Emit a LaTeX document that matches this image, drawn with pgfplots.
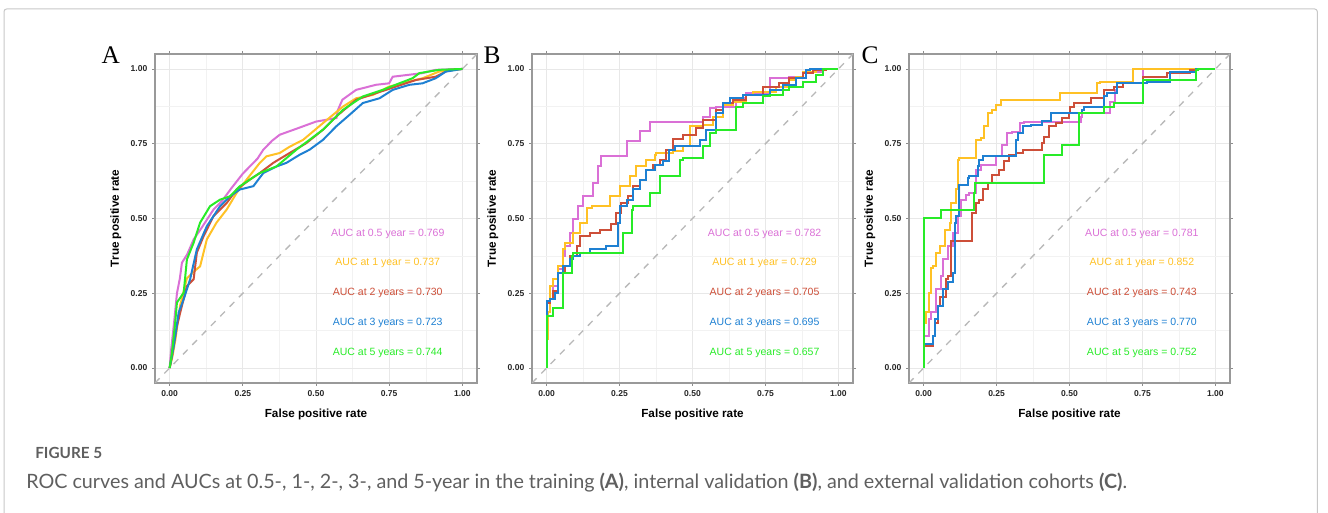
\documentclass[border=0pt]{standalone}
\usepackage{fontspec}
\setmainfont{Liberation Sans}
\newfontfamily\letterfont{Liberation Serif}
\newfontfamily\capfont{Lato}
\usepackage{pgfplots}
\pgfplotsset{compat=1.18}

\definecolor{cPurple}{RGB}{218,112,214}
\definecolor{cYellow}{RGB}{255,193,37}
\definecolor{cRed}{RGB}{205,79,57}
\definecolor{cBlue}{RGB}{30,128,210}
\definecolor{cGreen}{RGB}{40,235,40}
\definecolor{capgray}{RGB}{95,95,95}

\pgfplotsset{
  rocpanel/.style={
    scale only axis, width=240.75pt, height=246.75pt,
    xmin=-0.05, xmax=1.05, ymin=-0.05, ymax=1.05,
    xtick={0,0.25,0.5,0.75,1}, ytick={0,0.25,0.5,0.75,1},
    xticklabels={0.00,0.25,0.50,0.75,1.00},
    yticklabels={0.00,0.25,0.50,0.75,1.00},
    minor xtick={0.125,0.375,0.625,0.875},
    minor ytick={0.125,0.375,0.625,0.875},
    grid=both,
    major grid style={color=black!9, line width=0.5pt},
    minor grid style={color=black!5, line width=0.3pt},
    axis line style={black!40, line width=0.9pt},
    tick align=outside, major tick length=2.25pt, minor tick length=0pt,
    tick style={black!45, line width=0.6pt},
    ticklabel style={font=\bfseries\fontsize{6.4}{7}\selectfont, text=black!85},
    xlabel={False positive rate}, ylabel={True positive rate},
    label style={font=\bfseries\fontsize{8.8}{10}\selectfont},
    xlabel style={at={(axis description cs:0.5,-0.097)}, anchor=center},
    ylabel style={at={(axis description cs:-0.122,0.5)}, anchor=center},
    every axis plot/.append style={line width=1.5pt},
  },
  diag/.style={black!28, line width=1pt, dash pattern=on 5pt off 5pt, forget plot},
}
\tikzset{auc/.style={font=\fontsize{7.9}{9}\selectfont, anchor=center}}

\begin{document}
\begin{tikzpicture}
\path[use as bounding box] (0pt,0pt) rectangle (996pt,384.75pt);
\begin{scope}
\clip (0pt,0pt) rectangle (996pt,384.75pt);
\draw[black!22, line width=0.75pt, rounded corners=2pt]
  (3pt,-5pt) -- (3pt,378pt) -- (988pt,378pt) -- (988pt,-5pt);
\end{scope}

% panel letters
\node[anchor=base, font=\letterfont\fontsize{19}{20}\selectfont] at (83pt,337.3pt) {A};
\node[anchor=base, font=\letterfont\fontsize{19}{20}\selectfont] at (369pt,337.3pt) {B};
\node[anchor=base, font=\letterfont\fontsize{19}{20}\selectfont] at (652.5pt,337.3pt) {C};

% ---------- A: training cohort ----------
\begin{axis}[rocpanel, at={(116.25pt,97.5pt)}, anchor=south west, width=241.5pt]
\addplot[diag] coordinates {(-0.05,-0.05) (1.05,1.05)};
\addplot[cPurple] coordinates {(0,0) (0.005,0.06) (0.015,0.15) (0.025,0.25) (0.035,0.30) (0.042,0.352) (0.06,0.38) (0.082,0.43) (0.11,0.47) (0.15,0.53) (0.18,0.56) (0.21,0.6) (0.25,0.65) (0.28,0.68) (0.30,0.70) (0.32,0.73) (0.35,0.76) (0.376,0.78) (0.433,0.80) (0.50,0.824) (0.57,0.836) (0.575,0.863) (0.59,0.897) (0.637,0.93) (0.705,0.947) (0.75,0.952) (0.762,0.974) (0.864,0.986) (0.909,0.997) (1,1)};
\addplot[cYellow] coordinates {(0,0) (0.01,0.04) (0.02,0.097) (0.036,0.21) (0.059,0.30) (0.08,0.32) (0.104,0.34) (0.127,0.43) (0.16,0.486) (0.195,0.53) (0.229,0.586) (0.263,0.63) (0.308,0.686) (0.331,0.708) (0.376,0.719) (0.41,0.74) (0.456,0.763) (0.524,0.819) (0.592,0.874) (0.637,0.902) (0.694,0.913) (0.75,0.941) (0.819,0.958) (0.864,0.969) (0.92,0.991) (1,1)};
\addplot[cRed] coordinates {(0,0) (0.008,0.04) (0.025,0.141) (0.042,0.208) (0.059,0.274) (0.082,0.297) (0.093,0.386) (0.116,0.441) (0.15,0.508) (0.195,0.552) (0.229,0.597) (0.274,0.63) (0.308,0.652) (0.354,0.686) (0.41,0.719) (0.467,0.752) (0.524,0.797) (0.569,0.841) (0.637,0.897) (0.705,0.919) (0.773,0.941) (0.841,0.963) (0.909,0.974) (0.955,0.997) (1,1)};
\addplot[cBlue] coordinates {(0,0) (0.014,0.074) (0.031,0.186) (0.048,0.23) (0.07,0.297) (0.093,0.397) (0.127,0.474) (0.172,0.541) (0.206,0.574) (0.24,0.597) (0.286,0.608) (0.32,0.652) (0.365,0.674) (0.399,0.686) (0.444,0.713) (0.478,0.73) (0.524,0.763) (0.569,0.808) (0.615,0.847) (0.66,0.886) (0.717,0.902) (0.762,0.93) (0.819,0.947) (0.864,0.952) (0.909,0.969) (0.943,0.991) (1,1)};
\addplot[cGreen] coordinates {(0,0) (0.008,0.052) (0.019,0.152) (0.025,0.219) (0.048,0.252) (0.059,0.363) (0.082,0.419) (0.104,0.486) (0.138,0.541) (0.172,0.563) (0.206,0.574) (0.24,0.608) (0.274,0.63) (0.308,0.652) (0.365,0.674) (0.433,0.73) (0.524,0.797) (0.592,0.863) (0.66,0.908) (0.728,0.93) (0.785,0.952) (0.83,0.969) (0.853,0.986) (0.92,0.997) (1,1)};
\node[auc, text=cPurple] at (axis cs:0.745,0.45) {AUC at 0.5 year = 0.769};
\node[auc, text=cYellow] at (axis cs:0.745,0.35) {AUC at 1 year = 0.737};
\node[auc, text=cRed]    at (axis cs:0.745,0.25) {AUC at 2 years = 0.730};
\node[auc, text=cBlue]   at (axis cs:0.745,0.15) {AUC at 3 years = 0.723};
\node[auc, text=cGreen]  at (axis cs:0.745,0.05) {AUC at 5 years = 0.744};
\end{axis}

% ---------- B: internal validation cohort ----------
\begin{axis}[rocpanel, at={(399pt,97.5pt)}, anchor=south west]
\addplot[diag] coordinates {(-0.05,-0.05) (1.05,1.05)};
\addplot[cPurple, const plot mark right] coordinates {(0,0) (0.006,0.119) (0.011,0.186) (0.023,0.23) (0.04,0.274) (0.057,0.33) (0.063,0.374) (0.08,0.408) (0.091,0.452) (0.108,0.497) (0.126,0.541) (0.16,0.574) (0.177,0.619) (0.188,0.674) (0.205,0.708) (0.274,0.708) (0.279,0.758) (0.319,0.758) (0.354,0.791) (0.371,0.821) (0.536,0.824) (0.559,0.841) (0.582,0.869) (0.65,0.874) (0.684,0.902) (0.764,0.919) (0.832,0.969) (0.878,0.974) (0.912,0.986) (0.946,0.991) (1,1)};
\addplot[cYellow, const plot mark right] coordinates {(0,0) (0.006,0.097) (0.011,0.186) (0.023,0.274) (0.04,0.297) (0.057,0.341) (0.063,0.397) (0.091,0.419) (0.114,0.452) (0.137,0.486) (0.154,0.536) (0.217,0.541) (0.251,0.574) (0.285,0.608) (0.308,0.641) (0.342,0.674) (0.371,0.697) (0.376,0.713) (0.433,0.719) (0.468,0.724) (0.49,0.741) (0.536,0.808) (0.57,0.813) (0.604,0.841) (0.639,0.88) (0.684,0.891) (0.707,0.913) (0.787,0.924) (0.832,0.941) (0.855,0.963) (0.878,0.974) (0.924,0.991) (1,1)};
\addplot[cRed, const plot mark right] coordinates {(0,0) (0,0.208) (0.011,0.219) (0.023,0.23) (0.04,0.258) (0.063,0.319) (0.08,0.341) (0.103,0.374) (0.114,0.408) (0.148,0.441) (0.182,0.452) (0.222,0.463) (0.239,0.48) (0.256,0.519) (0.279,0.552) (0.296,0.574) (0.319,0.608) (0.342,0.63) (0.365,0.663) (0.388,0.68) (0.41,0.697) (0.433,0.73) (0.468,0.765) (0.513,0.78) (0.536,0.802) (0.582,0.83) (0.604,0.863) (0.639,0.886) (0.684,0.897) (0.741,0.913) (0.798,0.941) (0.832,0.952) (0.878,0.969) (0.912,0.986) (0.958,0.997) (1,1)};
\addplot[cBlue, const plot mark right] coordinates {(0,0) (0,0.208) (0.011,0.224) (0.029,0.23) (0.04,0.252) (0.057,0.319) (0.08,0.341) (0.091,0.363) (0.114,0.374) (0.148,0.386) (0.205,0.397) (0.245,0.408) (0.251,0.486) (0.274,0.541) (0.296,0.563) (0.319,0.597) (0.342,0.63) (0.371,0.663) (0.399,0.68) (0.42,0.691) (0.439,0.73) (0.524,0.741) (0.547,0.763) (0.582,0.797) (0.604,0.852) (0.627,0.886) (0.673,0.902) (0.764,0.913) (0.81,0.93) (0.855,0.947) (0.889,0.969) (0.901,0.997) (1,1)};
\addplot[cGreen, const plot mark right] coordinates {(0,0) (0,0.174) (0.023,0.174) (0.029,0.202) (0.057,0.202) (0.057,0.319) (0.086,0.319) (0.091,0.374) (0.262,0.386) (0.268,0.452) (0.291,0.452) (0.296,0.53) (0.353,0.541) (0.388,0.586) (0.388,0.641) (0.456,0.641) (0.467,0.697) (0.536,0.702) (0.559,0.741) (0.582,0.786) (0.65,0.797) (0.673,0.874) (0.741,0.886) (0.764,0.908) (0.81,0.913) (0.832,0.93) (0.878,0.941) (0.924,0.958) (0.946,0.98) (1,1)};
\node[auc, text=cPurple] at (axis cs:0.747,0.45) {AUC at 0.5 year = 0.782};
\node[auc, text=cYellow] at (axis cs:0.747,0.35) {AUC at 1 year = 0.729};
\node[auc, text=cRed]    at (axis cs:0.747,0.25) {AUC at 2 years = 0.705};
\node[auc, text=cBlue]   at (axis cs:0.747,0.15) {AUC at 3 years = 0.695};
\node[auc, text=cGreen]  at (axis cs:0.747,0.05) {AUC at 5 years = 0.657};
\end{axis}

% ---------- C: external validation cohort ----------
\begin{axis}[rocpanel, at={(681.75pt,97.5pt)}, anchor=south west]
\addplot[diag] coordinates {(-0.05,-0.05) (1.05,1.05)};
\addplot[cPurple, const plot mark right] coordinates {(0,0) (0.003,0.108) (0.02,0.108) (0.026,0.163) (0.043,0.186) (0.06,0.263) (0.066,0.308) (0.083,0.363) (0.1,0.408) (0.117,0.452) (0.128,0.508) (0.145,0.563) (0.157,0.58) (0.18,0.586) (0.197,0.663) (0.225,0.68) (0.248,0.68) (0.27,0.708) (0.287,0.747) (0.304,0.786) (0.33,0.79) (0.344,0.819) (0.538,0.824) (0.543,0.841) (0.64,0.852) (0.657,0.891) (0.663,0.93) (0.753,0.952) (0.77,1) (1,1)};
\addplot[cYellow, const plot mark right] coordinates {(0,0) (0.009,0.152) (0.02,0.186) (0.026,0.252) (0.032,0.336) (0.043,0.341) (0.055,0.386) (0.072,0.408) (0.089,0.463) (0.094,0.486) (0.111,0.552) (0.117,0.597) (0.123,0.697) (0.128,0.702) (0.18,0.702) (0.197,0.763) (0.208,0.769) (0.219,0.808) (0.236,0.852) (0.248,0.863) (0.264,0.88) (0.276,0.897) (0.469,0.897) (0.48,0.919) (0.594,0.919) (0.606,0.952) (0.719,0.958) (0.731,1) (1,1)};
\addplot[cRed, const plot mark right] coordinates {(0,0) (0.003,0.069) (0.032,0.074) (0.038,0.108) (0.05,0.152) (0.055,0.208) (0.077,0.236) (0.083,0.297) (0.094,0.308) (0.106,0.424) (0.166,0.424) (0.166,0.508) (0.18,0.519) (0.191,0.552) (0.202,0.563) (0.219,0.597) (0.236,0.619) (0.259,0.647) (0.276,0.663) (0.293,0.691) (0.316,0.713) (0.339,0.719) (0.407,0.73) (0.412,0.752) (0.43,0.774) (0.452,0.808) (0.475,0.819) (0.498,0.836) (0.503,0.852) (0.515,0.874) (0.572,0.886) (0.617,0.902) (0.651,0.93) (0.685,0.941) (0.753,0.952) (0.833,0.974) (0.913,0.986) (0.935,0.997) (1,1)};
\addplot[cBlue, const plot mark right] coordinates {(0,0) (0.003,0.072) (0.032,0.08) (0.038,0.108) (0.05,0.163) (0.066,0.208) (0.083,0.263) (0.1,0.286) (0.109,0.319) (0.109,0.397) (0.111,0.486) (0.123,0.508) (0.126,0.613) (0.151,0.613) (0.157,0.636) (0.185,0.641) (0.191,0.674) (0.202,0.697) (0.248,0.708) (0.316,0.708) (0.322,0.763) (0.339,0.786) (0.367,0.808) (0.407,0.814) (0.435,0.826) (0.464,0.852) (0.543,0.852) (0.549,0.863) (0.617,0.874) (0.628,0.908) (0.663,0.919) (0.765,0.952) (0.844,0.958) (0.935,0.991) (0.947,1) (1,1)};
\addplot[cGreen, const plot mark right] coordinates {(0,0) (0,0.5) (0.06,0.5) (0.06,0.53) (0.174,0.53) (0.177,0.586) (0.236,0.619) (0.412,0.619) (0.412,0.708) (0.475,0.713) (0.475,0.741) (0.532,0.747) (0.532,0.836) (0.617,0.852) (0.651,0.874) (0.753,0.886) (0.765,0.963) (0.935,0.963) (0.941,0.997) (1,1)};
\node[auc, text=cPurple] at (axis cs:0.748,0.45) {AUC at 0.5 year = 0.781};
\node[auc, text=cYellow] at (axis cs:0.748,0.35) {AUC at 1 year = 0.852};
\node[auc, text=cRed]    at (axis cs:0.748,0.25) {AUC at 2 years = 0.743};
\node[auc, text=cBlue]   at (axis cs:0.748,0.15) {AUC at 3 years = 0.770};
\node[auc, text=cGreen]  at (axis cs:0.748,0.05) {AUC at 5 years = 0.752};
\end{axis}

% caption
\node[anchor=base west, inner sep=0pt, font=\capfont\bfseries\fontsize{11.5}{13}\selectfont, text=capgray] at (26.25pt,40.5pt) {FIGURE 5};
\node[anchor=base west, inner sep=0pt, font=\capfont\fontsize{14.8}{17}\selectfont, text=capgray] at (19.5pt,18pt)
  {ROC curves and AUCs at 0.5-, 1-, 2-, 3-, and 5-year in the training \textbf{(A)}, internal validation \textbf{(B)}, and external validation cohorts \textbf{(C)}.};
\end{tikzpicture}
\end{document}
